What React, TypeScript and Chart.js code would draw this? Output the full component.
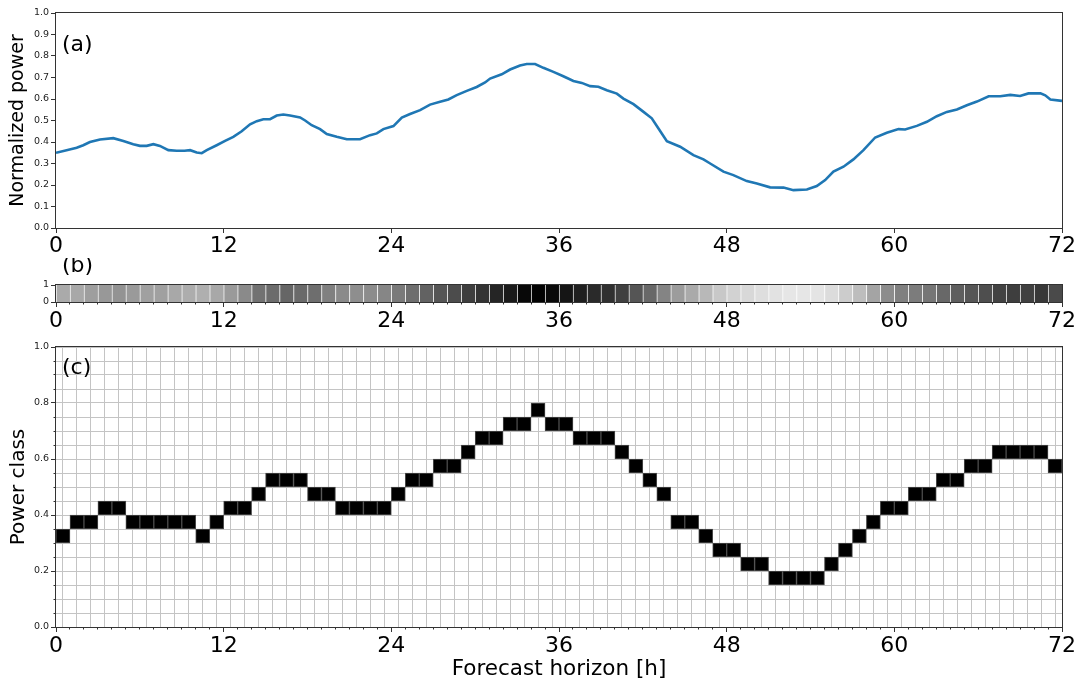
import React, { useEffect, useRef } from "react";
import { Chart, registerables } from "chart.js";
Chart.register(...registerables);

// ---------- data ----------
const powerHours = [0, 0.76, 1.48, 1.95, 2.43, 3.15, 4.1, 4.82, 5.53, 6.01, 6.49, 6.97, 7.44, 8.04, 8.64, 9.2, 9.6, 10.07, 10.43, 10.79, 11.5, 12.1, 12.69, 13.29, 13.89, 14.37, 14.84, 15.32, 15.8, 16.27, 16.75, 17.47, 17.83, 18.3, 18.9, 19.38, 20.09, 20.81, 21.76, 22.48, 22.96, 23.43, 24.15, 24.75, 25.34, 26.06, 26.77, 27.49, 28.08, 28.68, 29.4, 30.11, 30.71, 31.07, 31.9, 32.5, 33.21, 33.69, 34.29, 34.88, 35.6, 36.31, 37.03, 37.63, 38.23, 38.82, 39.42, 40.14, 40.61, 41.33, 42.05, 42.64, 43.12, 43.72, 44.67, 45.62, 46.34, 46.82, 47.77, 48.48, 49.44, 50.16, 51.11, 52.07, 52.78, 53.74, 54.45, 55.05, 55.64, 56.36, 57.07, 57.79, 58.63, 59.46, 60.3, 60.77, 61.61, 62.33, 63.04, 63.76, 64.48, 65.19, 65.91, 66.75, 67.58, 68.3, 69.0, 69.6, 70.46, 70.8, 71.17, 72];
const powerValues = [0.35, 0.362, 0.373, 0.385, 0.4, 0.412, 0.418, 0.405, 0.39, 0.382, 0.382, 0.39, 0.382, 0.362, 0.359, 0.359, 0.362, 0.351, 0.348, 0.362, 0.385, 0.405, 0.424, 0.45, 0.482, 0.497, 0.506, 0.506, 0.523, 0.528, 0.523, 0.514, 0.5, 0.478, 0.46, 0.437, 0.424, 0.413, 0.413, 0.432, 0.44, 0.46, 0.474, 0.514, 0.53, 0.548, 0.574, 0.587, 0.598, 0.618, 0.638, 0.656, 0.677, 0.695, 0.715, 0.737, 0.756, 0.763, 0.763, 0.745, 0.726, 0.706, 0.684, 0.675, 0.66, 0.657, 0.641, 0.625, 0.602, 0.576, 0.54, 0.51, 0.463, 0.404, 0.378, 0.339, 0.319, 0.3, 0.262, 0.246, 0.218, 0.207, 0.189, 0.188, 0.176, 0.179, 0.195, 0.223, 0.262, 0.285, 0.319, 0.362, 0.421, 0.443, 0.46, 0.458, 0.475, 0.494, 0.52, 0.54, 0.551, 0.571, 0.588, 0.613, 0.613, 0.619, 0.614, 0.626, 0.626, 0.617, 0.598, 0.591];

// gray level (0-255) of each hourly cell in strip (b)
const stripGray = [170, 168, 158, 152, 147, 154, 160, 160, 168, 173, 175, 168, 154, 138, 114, 108, 102, 106, 110, 128, 138, 142, 140, 134, 122, 110, 98, 85, 76, 62, 51, 37, 26, 8, 2, 10, 21, 31, 42, 48, 64, 85, 104, 132, 156, 170, 184, 200, 210, 216, 222, 226, 230, 230, 228, 220, 204, 189, 164, 140, 128, 124, 118, 104, 94, 86, 78, 66, 62, 64, 56, 74];

// power class index of each hourly cell in (c); class k spans [k*0.05, (k+1)*0.05]
const powerClass = [6, 7, 7, 8, 8, 7, 7, 7, 7, 7, 6, 7, 8, 8, 9, 10, 10, 10, 9, 9, 8, 8, 8, 8, 9, 10, 10, 11, 11, 12, 13, 13, 14, 14, 15, 14, 14, 13, 13, 13, 12, 11, 10, 9, 7, 7, 6, 5, 5, 4, 4, 3, 3, 3, 3, 4, 5, 6, 7, 8, 8, 9, 9, 10, 10, 11, 11, 12, 12, 12, 12, 11];
const classWidth = 0.05;

const xMajorStep = 12;
const hoursMax = 72;

// ---------- helpers ----------
const FONT = "'DejaVu Sans', 'Noto Sans', sans-serif";
const W = 1076;
const PLOT_LEFT = 56;
const PLOT_RIGHT = 1062;

const isMult = (v: number, step: number) => Math.abs(v / step - Math.round(v / step)) < 1e-6;

function decorPlugin(label: string, ly: number, isMajorX: (v: number) => boolean, isMajorY: (v: number) => boolean) {
  return {
    id: "decor",
    afterDraw(chart: any) {
      const ctx = chart.ctx;
      const { left, right, top, bottom } = chart.chartArea;
      ctx.save();
      ctx.strokeStyle = "#333";
      ctx.lineWidth = 1;
      const xs = chart.scales.x;
      const ys = chart.scales.y;
      ctx.beginPath();
      xs.ticks.forEach((t: any) => {
        const p = Math.round(xs.getPixelForValue(t.value) + 0.5) - 0.5;
        const len = isMajorX(t.value) ? 5 : 2.5;
        ctx.moveTo(p, bottom);
        ctx.lineTo(p, bottom + len);
      });
      ys.ticks.forEach((t: any) => {
        const p = Math.round(ys.getPixelForValue(t.value) + 0.5) - 0.5;
        const len = isMajorY(t.value) ? 5 : 2.5;
        ctx.moveTo(left, p);
        ctx.lineTo(left - len, p);
      });
      ctx.stroke();
      ctx.strokeRect(Math.round(left) - 0.5, Math.round(top) - 0.5, Math.round(right - left) + 1, Math.round(bottom - top) + 1);
      ctx.fillStyle = "#000";
      ctx.font = `22px ${FONT}`;
      ctx.textAlign = "left";
      ctx.textBaseline = "middle";
      ctx.fillText(label, 62, ly);
      ctx.restore();
    },
  };
}

function useChart(ref: React.RefObject<HTMLCanvasElement>, make: (c: HTMLCanvasElement) => Chart) {
  useEffect(() => {
    if (!ref.current) return;
    const ch = make(ref.current);
    return () => ch.destroy();
  }, []);
}

const xTickLabel = (v: any) => (isMult(Number(v), xMajorStep) ? String(Math.round(Number(v))) : "");
const fitX = (h: number) => (s: any) => {
  s.height = h;
  s.paddingLeft = 0;
  s.paddingRight = 0;
};
const fitY = (s: any) => {
  s.width = PLOT_LEFT;
  s.paddingTop = 0;
  s.paddingBottom = 0;
};

export default function App() {
  const refA = useRef<HTMLCanvasElement>(null);
  const refB = useRef<HTMLCanvasElement>(null);
  const refC = useRef<HTMLCanvasElement>(null);

  const HA = 258;
  const HB = 76;
  const HC = 684 - HA - HB;

  // Panel (a)
  useChart(refA, (cv) => {
    const top = 13;
    const bottom = 228;
    return new Chart(cv, {
      type: "line",
      data: {
        datasets: [
          {
            data: powerHours.map((h, i) => ({ x: h, y: powerValues[i] })),
            borderColor: "#1f77b4",
            borderWidth: 2.6,
            pointRadius: 0,
            tension: 0,
            fill: false,
          },
        ],
      },
      options: {
        animation: false,
        responsive: false,
        devicePixelRatio: 1,
        layout: { padding: { top, right: W - PLOT_RIGHT, left: 0, bottom: 0 } },
        plugins: { legend: { display: false }, tooltip: { enabled: false } },
        scales: {
          x: {
            type: "linear",
            min: 0,
            max: hoursMax,
            grid: { display: false, drawTicks: false },
            border: { display: false },
            ticks: { stepSize: xMajorStep, autoSkip: false, maxRotation: 0, font: { family: FONT, size: 22 }, color: "#000", padding: 5, callback: xTickLabel },
            afterFit: fitX(HA - bottom),
          },
          y: {
            min: 0,
            max: 1,
            grid: { display: false, drawTicks: false },
            border: { display: false },
            ticks: { stepSize: 0.1, autoSkip: false, font: { family: FONT, size: 9.5 }, color: "#222", padding: 7, callback: (v: any) => Number(v).toFixed(1) },
            title: { display: true, text: "Normalized power", font: { family: FONT, size: 19 }, color: "#000", padding: { top: 7, bottom: 0 } },
            afterFit: fitY,
          },
        },
      },
      plugins: [decorPlugin("(a)", 45, () => true, () => true)],
    } as any);
  });

  // Panel (b)
  useChart(refB, (cv) => {
    const top = 285 - HA;
    const bottom = 302 - HA;
    return new Chart(cv, {
      type: "bar",
      data: {
        datasets: [
          {
            data: stripGray.map((g, i) => ({ x: i + 0.5, y: [0, 1] })),
            backgroundColor: stripGray.map((g) => `rgb(${g},${g},${g})`),
            borderColor: "rgba(255,255,255,0.22)",
            borderWidth: { left: 1, right: 0, top: 0, bottom: 0 },
            borderSkipped: false,
            barPercentage: 1,
            categoryPercentage: 1,
          },
        ],
      },
      options: {
        animation: false,
        responsive: false,
        devicePixelRatio: 1,
        layout: { padding: { top, right: W - PLOT_RIGHT, left: 0, bottom: 0 } },
        plugins: { legend: { display: false }, tooltip: { enabled: false } },
        scales: {
          x: {
            type: "linear",
            min: 0,
            max: hoursMax,
            offset: false,
            grid: { display: false, drawTicks: false },
            border: { display: false },
            ticks: { stepSize: 1, autoSkip: false, maxRotation: 0, font: { family: FONT, size: 22 }, color: "#000", padding: 6, callback: xTickLabel },
            afterFit: fitX(HB - bottom),
          },
          y: {
            min: 0,
            max: 1,
            grid: { display: false, drawTicks: false },
            border: { display: false },
            ticks: { stepSize: 1, autoSkip: false, font: { family: FONT, size: 9.5 }, color: "#222", padding: 7, callback: (v: any) => String(Math.round(Number(v))) },
            afterFit: fitY,
          },
        },
      },
      plugins: [decorPlugin("(b)", 266 - HA, (v) => isMult(v, xMajorStep), () => true)],
    } as any);
  });

  // Panel (c)
  useChart(refC, (cv) => {
    const off = HA + HB;
    const top = 347 - off;
    const bottom = 627 - off;
    return new Chart(cv, {
      type: "bar",
      data: {
        datasets: [
          {
            data: powerClass.map((k, i) => ({ x: i + 0.5, y: [k * classWidth, (k + 1) * classWidth] })),
            backgroundColor: "#000",
            borderColor: "#4a4a4a",
            borderWidth: 1,
            borderSkipped: false,
            barPercentage: 1,
            categoryPercentage: 1,
          },
        ],
      },
      options: {
        animation: false,
        responsive: false,
        devicePixelRatio: 1,
        layout: { padding: { top, right: W - PLOT_RIGHT, left: 0, bottom: 0 } },
        plugins: { legend: { display: false }, tooltip: { enabled: false } },
        scales: {
          x: {
            type: "linear",
            min: 0,
            max: hoursMax,
            offset: false,
            grid: { color: "#c4c4c4", lineWidth: 1, drawTicks: false },
            border: { display: false },
            ticks: { stepSize: 1, autoSkip: false, maxRotation: 0, font: { family: FONT, size: 22 }, color: "#000", padding: 6, callback: xTickLabel },
            title: { display: true, text: "Forecast horizon [h]", font: { family: FONT, size: 21.5 }, color: "#000", padding: { top: 0, bottom: 2 } },
            afterFit: fitX(HC - bottom),
          },
          y: {
            min: 0,
            max: 1,
            grid: { color: "#c4c4c4", lineWidth: 1, drawTicks: false },
            border: { display: false },
            ticks: { stepSize: classWidth, autoSkip: false, font: { family: FONT, size: 9.5 }, color: "#222", padding: 7, callback: (v: any) => (isMult(Number(v), 0.2) ? Number(v).toFixed(1) : "") },
            title: { display: true, text: "Power class", font: { family: FONT, size: 20 }, color: "#000", padding: { top: 7, bottom: 0 } },
            afterFit: fitY,
          },
        },
      },
      plugins: [decorPlugin("(c)", 368 - off, (v) => isMult(v, xMajorStep), (v) => isMult(v, 0.2))],
    } as any);
  });

  const cs = (top: number, h: number): React.CSSProperties => ({ position: "absolute", left: 0, top, width: W, height: h, display: "block" });
  return (
    <div style={{ position: "absolute", left: 0, top: 0, width: W, height: 684, background: "#fff" }}>
      <canvas ref={refA} width={W} height={HA} style={cs(0, HA)} />
      <canvas ref={refB} width={W} height={HB} style={cs(HA, HB)} />
      <canvas ref={refC} width={W} height={HC} style={cs(HA + HB, HC)} />
    </div>
  );
}
